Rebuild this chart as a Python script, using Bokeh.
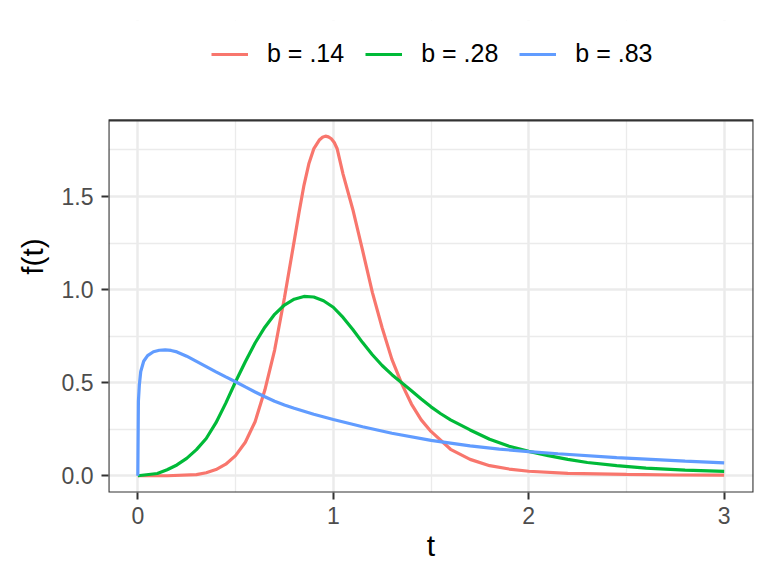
from bokeh.plotting import figure
from bokeh.models import (Range1d, FixedTicker, Legend, LegendItem, ColumnDataSource,
                          PrintfTickFormatter, BoxAnnotation)
from bokeh.embed import file_html
from bokeh.resources import INLINE

# ---- data ----
t_red = [0, 0.15, 0.3, 0.35, 0.4, 0.45, 0.5, 0.55, 0.6, 0.65, 0.7, 0.75, 0.8, 0.825,
         0.85, 0.875, 0.9, 0.93, 0.945, 0.96, 0.975, 0.99, 1.005, 1.02, 1.05, 1.1,
         1.15, 1.2, 1.25, 1.3, 1.35, 1.4, 1.45, 1.5, 1.6, 1.7, 1.8, 1.9, 2.0, 2.2,
         2.5, 2.75, 3.0]
f_red = [0, 0.0, 0.006, 0.016, 0.033, 0.062, 0.108, 0.18, 0.29, 0.46, 0.675, 0.955,
         1.26, 1.415, 1.56, 1.675, 1.755, 1.805, 1.818, 1.824, 1.82, 1.81, 1.79,
         1.756, 1.62, 1.43, 1.21, 0.985, 0.795, 0.625, 0.495, 0.385, 0.30, 0.238,
         0.142, 0.088, 0.054, 0.036, 0.024, 0.013, 0.007, 0.004, 0.003]

t_green = [0, 0.1, 0.15, 0.2, 0.25, 0.3, 0.35, 0.4, 0.45, 0.5, 0.55, 0.6, 0.65, 0.7,
           0.75, 0.8, 0.85, 0.9, 0.95, 1.0, 1.05, 1.1, 1.15, 1.2, 1.25, 1.3, 1.35,
           1.4, 1.45, 1.5, 1.55, 1.6, 1.7, 1.8, 1.9, 2.0, 2.1, 2.2, 2.3, 2.45, 2.6,
           2.8, 3.0]
f_green = [0, 0.012, 0.032, 0.058, 0.093, 0.14, 0.20, 0.285, 0.39, 0.505, 0.612,
           0.713, 0.798, 0.867, 0.917, 0.948, 0.963, 0.960, 0.940, 0.905, 0.85, 0.785,
           0.715, 0.65, 0.592, 0.543, 0.50, 0.456, 0.412, 0.37, 0.333, 0.30, 0.246,
           0.196, 0.158, 0.131, 0.108, 0.088, 0.071, 0.054, 0.041, 0.03, 0.023]

t_blue = [0, 0.003, 0.008, 0.015, 0.03, 0.05, 0.08, 0.11, 0.14, 0.17, 0.2, 0.25, 0.3,
          0.35, 0.4, 0.45, 0.5, 0.55, 0.6, 0.65, 0.7, 0.75, 0.8, 0.9, 1.0, 1.15, 1.3,
          1.5, 1.7, 1.85, 2.0, 2.15, 2.45, 2.8, 3.0]
f_blue = [0, 0.40, 0.49, 0.56, 0.615, 0.645, 0.666, 0.674, 0.676, 0.673, 0.665, 0.642,
          0.614, 0.586, 0.558, 0.531, 0.505, 0.477, 0.45, 0.424, 0.40, 0.38, 0.362,
          0.330, 0.302, 0.263, 0.228, 0.19, 0.16, 0.143, 0.13, 0.118, 0.097, 0.079,
          0.069]

labels = ["b = .14", "b = .28", "b = .83"]
colors = ["#F8766D", "#00BA38", "#619CFF"]
x_ticks = [0, 1, 2, 3]
x_minor = [0.5, 1.5, 2.5]
y_ticks = [0, 0.5, 1.0, 1.5]
y_minor = [0.25, 0.75, 1.25, 1.75]
Y_LOW, Y_HIGH = -0.09, 1.909      # panel limits (data units)

FONT = "Liberation Sans"

# the frame extends upward to hold the legend; the panel is drawn below it
p = figure(width=760, height=568, output_backend="svg", toolbar_location=None,
           x_range=Range1d(-0.15, 3.15), y_range=Range1d(Y_LOW, 2.445),
           min_border_left=108, min_border_right=7, min_border_top=20,
           min_border_bottom=76)
p.background_fill_color = "white"
p.border_fill_color = "white"
p.outline_line_color = None

# grids
p.xgrid.ticker = FixedTicker(ticks=x_ticks, minor_ticks=x_minor)
p.ygrid.ticker = FixedTicker(ticks=y_ticks, minor_ticks=y_minor)
for g in (p.xgrid, p.ygrid):
    g.grid_line_color = "#EBEBEB"
    g.grid_line_width = 2.5
    g.minor_grid_line_color = "#EBEBEB"
    g.minor_grid_line_width = 1.3

# axes
p.xaxis.ticker = FixedTicker(ticks=x_ticks, minor_ticks=x_minor)
p.yaxis.ticker = FixedTicker(ticks=y_ticks, minor_ticks=y_minor)
p.yaxis.formatter = PrintfTickFormatter(format="%.1f")
p.yaxis.bounds = (Y_LOW, Y_HIGH)
for ax in (p.xaxis, p.yaxis):
    ax.axis_line_color = None
    ax.minor_tick_line_color = None
    ax.major_tick_line_color = "#333333"
    ax.major_tick_line_width = 2
    ax.major_tick_in = 0
    ax.major_tick_out = 7
    ax.major_label_text_font = FONT
    ax.major_label_text_font_size = "23px"
    ax.major_label_text_color = "#4D4D4D"
    ax.axis_label_text_font = FONT
    ax.axis_label_text_font_size = "30px"
    ax.axis_label_text_font_style = "normal"
    ax.axis_label_text_color = "black"
p.xaxis.axis_label = "t"
p.yaxis.axis_label = "f(t)"
p.xaxis.major_label_standoff = 7
p.xaxis.axis_label_standoff = 2
p.yaxis.major_label_standoff = 8
p.yaxis.axis_label_standoff = 10

renderers = []
for t, f, c in ((t_red, f_red, colors[0]), (t_green, f_green, colors[1]),
                (t_blue, f_blue, colors[2])):
    src = ColumnDataSource(dict(t=t, f=f))
    r = p.line("t", "f", source=src, line_color=c, line_width=3.2)
    renderers.append(r)

# blank the area above the panel (legend zone) and draw the panel border
p.add_layout(BoxAnnotation(bottom=Y_HIGH, fill_color="white", fill_alpha=1,
                           line_color=None))
p.add_layout(BoxAnnotation(top=Y_HIGH, fill_alpha=0, line_color="#333333",
                           line_alpha=1, line_width=2.2))

legend = Legend(items=[LegendItem(label=l, renderers=[r]) for l, r in zip(labels, renderers)],
                orientation="horizontal", location=(103, 424),
                border_line_color=None, background_fill_alpha=0,
                padding=0, margin=0, spacing=21,
                glyph_width=37, glyph_height=20, label_standoff=19, label_width=77,
                label_text_font=FONT, label_text_font_size="25px",
                label_text_color="black")
p.add_layout(legend, "center")

open("out.html", "w").write(file_html(p, INLINE))
